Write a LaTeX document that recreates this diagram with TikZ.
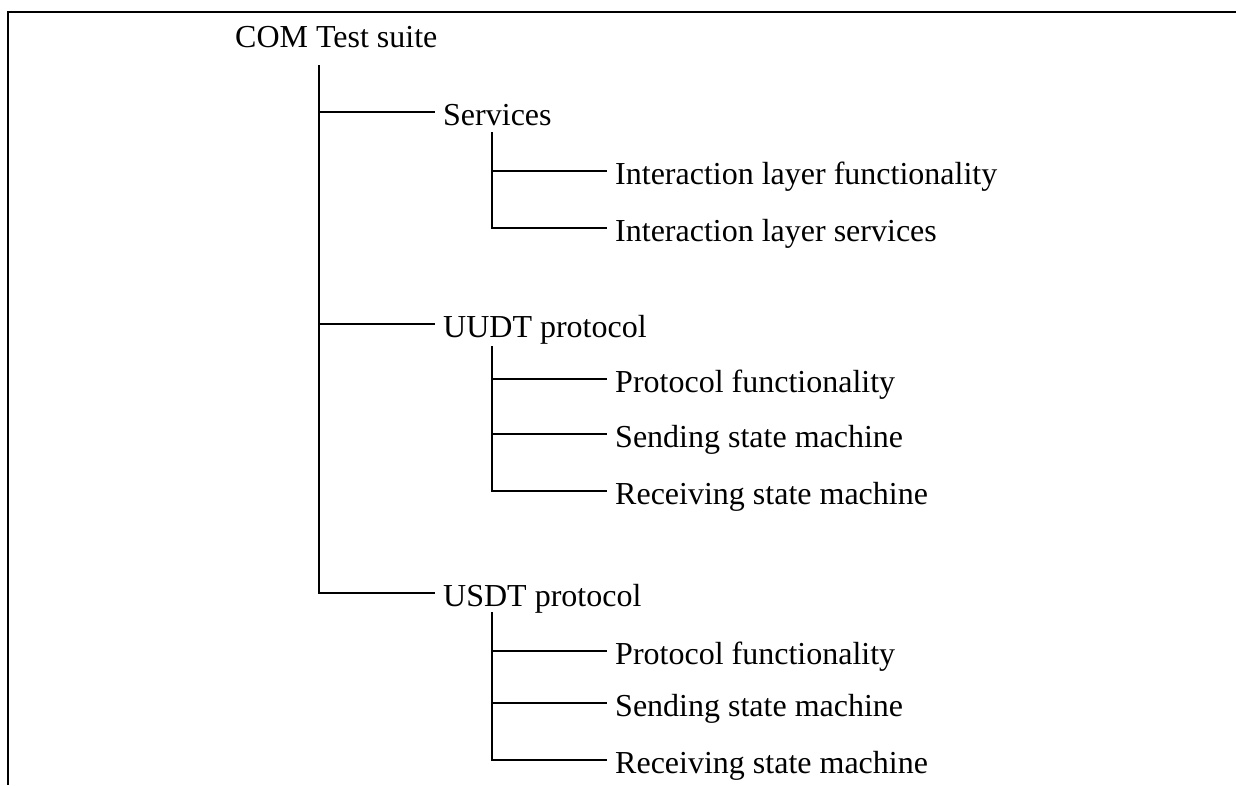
\documentclass[tikz,border=0pt]{standalone}
\usepackage{fontspec}
\setmainfont{Liberation Serif}
\begin{document}
\begin{tikzpicture}[x=1pt,y=-1pt,
  lbl/.style={anchor=west, inner xsep=8pt, inner ysep=0pt, text height=33pt, text depth=7pt, font=\fontsize{32}{38}\selectfont},
  conn/.style={line width=1.3pt},
  frame/.style={line width=2.2pt}]
\useasboundingbox (0,0) rectangle (1236,785);
\coordinate (fa) at (1236,12);
\coordinate (fb) at (8,12);
\coordinate (fc) at (8,785);
\draw[frame] (fa) -- (fb) -- (fc);

\node[lbl] (com) at (227,34) {COM Test suite};
\node[lbl] (srv) at (435,112) {Services};
\node[lbl] (ilf) at (607,171) {Interaction layer functionality};
\node[lbl] (ils) at (607,228) {Interaction layer services};
\node[lbl] (uudt) at (435,324) {UUDT protocol};
\node[lbl] (upf) at (607,379) {Protocol functionality};
\node[lbl] (usm) at (607,434) {Sending state machine};
\node[lbl] (urm) at (607,491) {Receiving state machine};
\node[lbl] (usdt) at (435,593) {USDT protocol};
\node[lbl] (spf) at (607,651) {Protocol functionality};
\node[lbl] (ssm) at (607,703) {Sending state machine};
\node[lbl] (srm) at (607,760) {Receiving state machine};

\coordinate (t0) at (319,65);
\draw[conn] (t0) |- (usdt.west);
\draw[conn] (t0 |- srv.west) -- (srv.west);
\draw[conn] (t0 |- uudt.west) -- (uudt.west);

\coordinate (s0) at (492,132);
\draw[conn] (s0) |- (ils.west);
\draw[conn] (s0 |- ilf.west) -- (ilf.west);

\coordinate (u0) at (492,346);
\draw[conn] (u0) |- (urm.west);
\draw[conn] (u0 |- upf.west) -- (upf.west);
\draw[conn] (u0 |- usm.west) -- (usm.west);

\coordinate (d0) at (492,612);
\draw[conn] (d0) |- (srm.west);
\draw[conn] (d0 |- spf.west) -- (spf.west);
\draw[conn] (d0 |- ssm.west) -- (ssm.west);
\end{tikzpicture}
\end{document}
